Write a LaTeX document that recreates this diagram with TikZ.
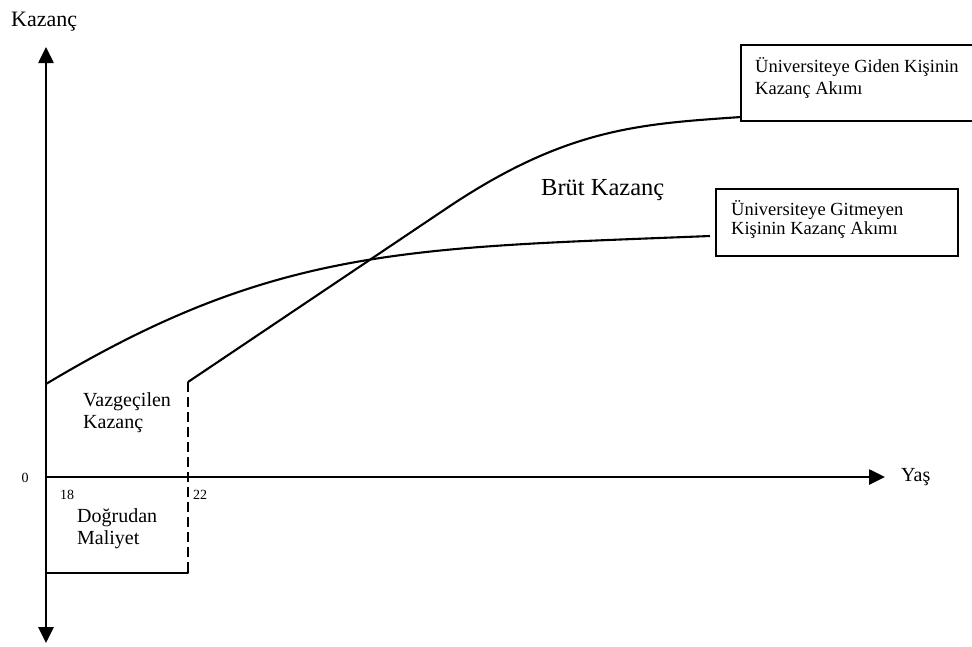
\documentclass[tikz,border=0pt]{standalone}
\usepackage{fontspec}
\setmainfont{Liberation Serif}
\usetikzlibrary{arrows.meta}
\tikzset{
  axis/.style={line width=2.6pt, -{Triangle[width=15pt,length=16pt]}},
  curveline/.style={line width=2.1pt, line join=round},
  dashline/.style={line width=2.4pt, dash pattern=on 10pt off 5pt},
  infobox/.style={draw, line width=2.1pt, rectangle, inner sep=0pt},
  lbl/.style={inner sep=0pt, align=left},
  small/.style={inner sep=0pt, font=\fontsize{14}{16}\selectfont},
}
\begin{document}
\begin{tikzpicture}[x=1pt,y=-1pt]
\useasboundingbox (0,0) rectangle (972,646);
% axes
\coordinate (O) at (46,477);
\coordinate (ytop) at (46,47);
\coordinate (ybot) at (46,643);
\coordinate (xend) at (885,477);
\draw[axis] (O) -- (ytop);
\draw[axis] (O) -- (ybot);
\draw[axis] (O) -- (xend);
% boxes
\node[infobox, minimum width=234pt, minimum height=76pt] (gidenbox) at (858,83) {};
\node[infobox, minimum width=242pt, minimum height=67pt] (gitmeyenbox) at (837,222.5) {};
\coordinate (gidenEnd) at (741,117);
\coordinate (gitmeyenEnd) at (710,236);
% cost region
\coordinate (nogStart) at (46,384);
\coordinate (gidStart) at (188,382);
\coordinate (gidBend) at (447,208);
\coordinate (costBot) at (188,573);
\coordinate (costLeft) at (46,573);
\draw[dashline] (gidStart) -- (costBot);
\draw[curveline] (costLeft) -- (costBot) -- ++(0,-8);
\draw[curveline] (gidStart) ++(0,6) -- (gidStart);
% curves
\draw[curveline] (nogStart) .. controls (276,246) and (410,248) .. (gitmeyenEnd);
\draw[curveline] (gidStart) -- (gidBend) .. controls (567,127.4) and (641,124) .. (gidenEnd);
% labels
\node[lbl, anchor=base west, font=\fontsize{22}{26}\selectfont] (ylabel) at (11,26) {Kazanç};
\node[lbl, anchor=base west, font=\fontsize{20}{24}\selectfont] (xlabel) at (901,481) {Yaş};
\node[small] (zero) at (25,478) {0};
\node[small] (n18) at (67,495) {18};
\node[small] (n22) at (200,495) {22};
\node[lbl, anchor=base west, font=\fontsize{20}{22}\selectfont] (vazg) at (83,428) {Vazgeçilen\\Kazanç};
\node[lbl, anchor=base west, font=\fontsize{20}{22}\selectfont] (dogr) at (77,544) {Doğrudan\\Maliyet};
\node[lbl, anchor=base west, font=\fontsize{24.5}{28}\selectfont] (brut) at (541,195) {Brüt Kazanç};
\node[lbl, anchor=base west, font=\fontsize{18.5}{22}\selectfont] (gidentext) at (755,94) {Üniversiteye Giden Kişinin\\Kazanç Akımı};
\node[lbl, anchor=base west, font=\fontsize{18.5}{19}\selectfont] (gitmeyentext) at (731,234) {Üniversiteye Gitmeyen\\Kişinin Kazanç Akımı};
\end{tikzpicture}
\end{document}
